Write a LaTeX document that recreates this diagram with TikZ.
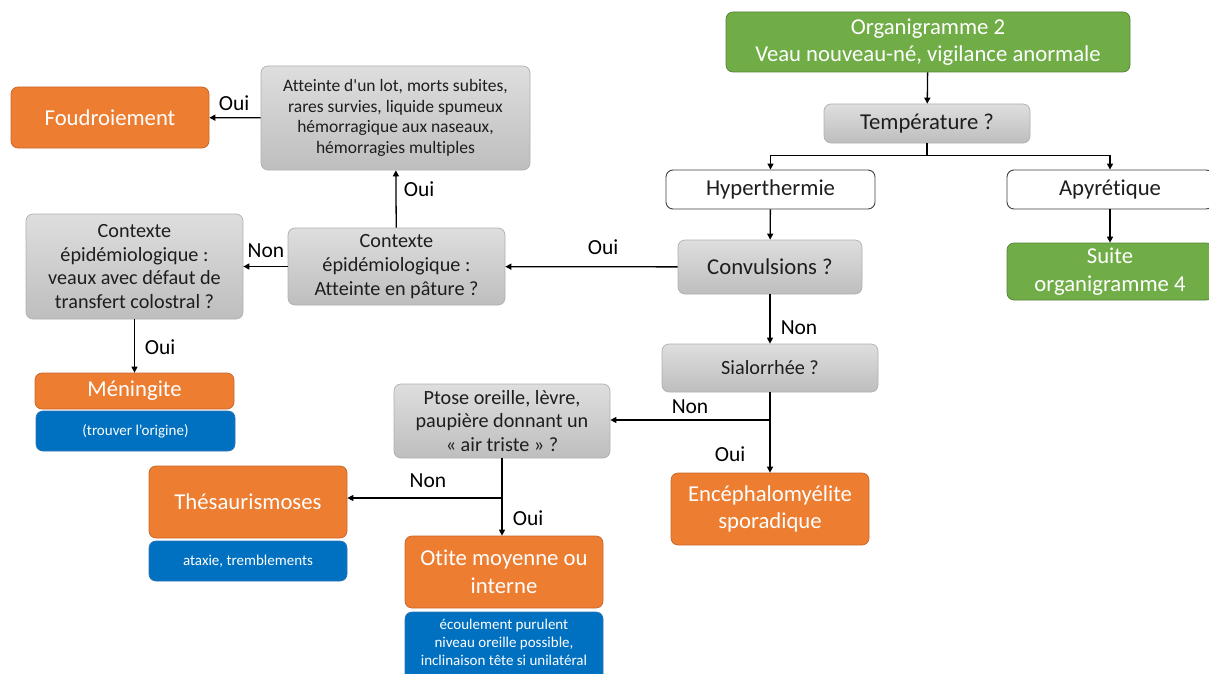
\documentclass[tikz,border=0pt]{standalone}
\usepackage{fontspec}
\setmainfont{Carlito}[Ligatures=NoCommon]
\usetikzlibrary{arrows.meta}
\definecolor{greenfill}{HTML}{70AD47}
\definecolor{greenline}{HTML}{548235}
\definecolor{orangefill}{HTML}{ED7D31}
\definecolor{orangeline}{HTML}{C8672A}
\definecolor{bluefill}{HTML}{0070C0}
\definecolor{blueline}{HTML}{2E75B6}
\definecolor{graytop}{HTML}{DEDEDE}
\definecolor{graybot}{HTML}{BEBEBE}
\definecolor{grayline}{HTML}{B0B0B0}
\definecolor{textdark}{HTML}{1E1E1E}
\tikzset{
  box/.style={rounded corners=7pt, inner sep=2pt, align=center, line width=0.7pt},
  graybox/.style={box, draw=grayline, top color=graytop, bottom color=graybot, text=textdark},
  whitebox/.style={box, draw=textdark!85, fill=white, text=textdark, line width=0.9pt},
  greenbox/.style={box, draw=greenline, fill=greenfill, text=white},
  orangebox/.style={box, draw=orangeline, fill=orangefill, text=white},
  bluebox/.style={box, draw=blueline, fill=bluefill, text=white},
  big/.style={font=\fontsize{22.7}{27.5}\selectfont},
  mid/.style={font=\fontsize{20.2}{23.8}\selectfont},
  small/.style={font=\fontsize{17.5}{20.7}\selectfont},
  tiny/.style={font=\fontsize{15}{18}\selectfont},
  arr/.style={line width=1.3pt, -{Triangle[length=6pt,width=6pt]}},
  lbl/.style={font=\fontsize{21.5}{24}\selectfont, text=black, inner sep=0pt},
}
\begin{document}
\begin{tikzpicture}[x=1pt,y=-1pt]
\useasboundingbox (0,0) rectangle (1209,674);

% main column
\node[greenbox, big, minimum width=404pt, minimum height=60pt] (top) at (928,42)
  {Organigramme 2\\Veau nouveau-né, vigilance anormale};
\node[graybox, big, minimum width=206pt, minimum height=39pt] (temp) at (927,123.5) {Température ?};
\node[whitebox, big, minimum width=209pt, minimum height=39pt] (hyper) at (770.5,189.5) {Hyperthermie};
\node[whitebox, big, minimum width=206pt, minimum height=39pt] (apy) at (1110,189.5) {Apyrétique};
\node[graybox, big, minimum width=184pt, minimum height=54pt] (conv) at (770,267) {Convulsions ?};
\node[greenbox, big, minimum width=206pt, minimum height=57pt] (suite) at (1110,271.5)
  {Suite\\organigramme 4};
\node[graybox, mid, minimum width=216pt, minimum height=48pt] (sial) at (770,368) {Sialorrhée ?};
\node[orangebox, big, minimum width=198pt, minimum height=72pt] (enc) at (770,509)
  {Encéphalomyélite\\sporadique};

% lower branch
\node[graybox, mid, minimum width=216pt, minimum height=74pt] (ptose) at (502,421)
  {Ptose oreille, lèvre,\\paupière donnant un\\« air triste » ?};
\node[orangebox, big, minimum width=198pt, minimum height=72pt] (thes) at (248,502) {Thésaurismoses};
\node[bluebox, tiny, minimum width=198pt, minimum height=40pt] (ataxie) at (248,561) {ataxie, tremblements};
\node[orangebox, big, minimum width=198pt, minimum height=72pt] (otite) at (504,572)
  {Otite moyenne ou\\interne};
\node[bluebox, tiny, minimum width=198pt, minimum height=78pt, text depth=18pt] (ecoul) at (504,651)
  {écoulement purulent\\niveau oreille possible,\\inclinaison tête si unilatéral};

% left branch
\node[graybox, mid, minimum width=217pt, minimum height=77pt] (pature) at (396.5,266.5)
  {Contexte\\épidémiologique :\\Atteinte en pâture ?};
\node[graybox, mid, minimum width=217pt, minimum height=105pt] (veaux) at (134.5,266.5)
  {Contexte\\épidémiologique :\\veaux avec défaut de\\transfert colostral ?};
\node[orangebox, big, minimum width=199pt, minimum height=36pt] (mening) at (134.5,391) {Méningite};
\node[bluebox, tiny, minimum width=199pt, minimum height=40pt] (trouver) at (135.5,431) {(trouver l’origine)};
\node[graybox, small, minimum width=269pt, minimum height=104pt] (lot) at (395.5,118)
  {Atteinte d\textquotesingle un lot, morts subites,\\rares survies, liquide spumeux\\hémorragique aux naseaux,\\hémorragies multiples};
\node[orangebox, big, minimum width=198pt, minimum height=61pt] (foud) at (110,117.5) {Foudroiement};

% connectors
\draw[arr] (top) -- (temp);
\draw[arr] (temp.south) -- ++(0,12) -| (hyper.north);
\draw[arr] (temp.south) -- ++(0,12) -| (apy.north);
\draw[arr] (hyper) -- (conv);
\draw[arr] (apy) -- (suite);
\draw[arr] (conv) -- (pature);
\draw[arr] (conv) -- (sial);
\draw[arr] (sial) -- (enc);
\coordinate (sb) at (770,420);
\draw[arr] (sb) -- (sb -| ptose.east);
\draw[arr] (ptose.south) -- (ptose.south |- otite.north);
\coordinate (pb) at (502,498);
\draw[arr] (pb) -- (pb -| thes.east);
\draw[arr] (pature) -- (veaux);
\draw[arr] (pature) -- (lot);
\draw[arr] (lot) -- (foud);
\draw[arr] (veaux) -- (mening);

% branch labels
\node[lbl] (l1) at (603,247) {Oui};
\node[lbl] (l2) at (799,328) {Non};
\node[lbl] (l3) at (690,407) {Non};
\node[lbl] (l4) at (730,454) {Oui};
\node[lbl] (l5) at (428,481) {Non};
\node[lbl] (l6) at (528,518) {Oui};
\node[lbl] (l7) at (266,251) {Non};
\node[lbl] (l8) at (419,189) {Oui};
\node[lbl] (l9) at (234,103) {Oui};
\node[lbl] (l10) at (160,347) {Oui};
\end{tikzpicture}
\end{document}
